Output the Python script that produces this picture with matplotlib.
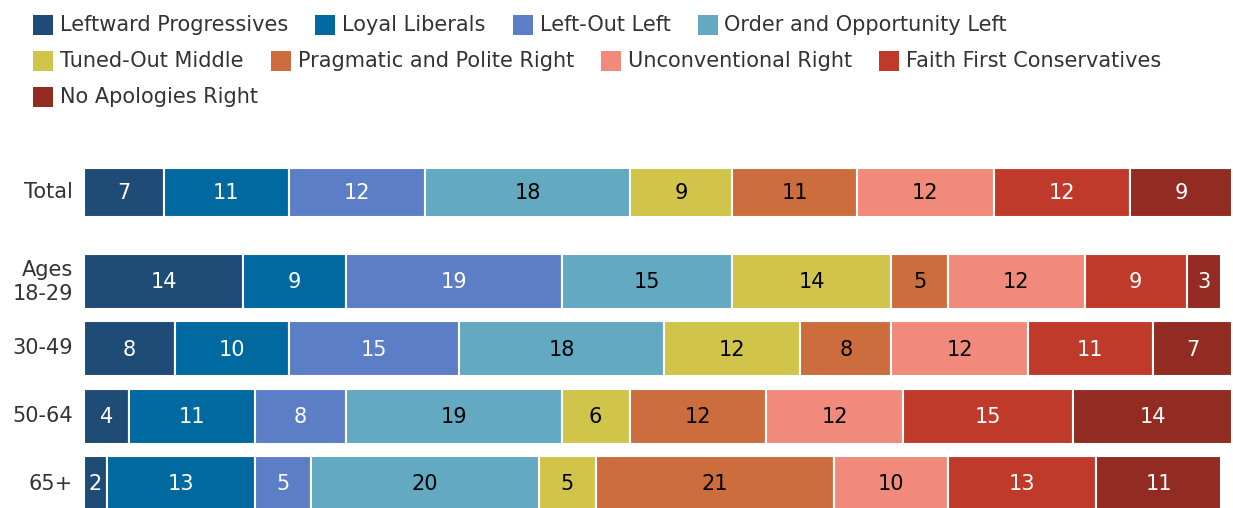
import numpy as np
import matplotlib

matplotlib.use("Agg")
import matplotlib.pyplot as plt
from matplotlib.patches import Rectangle

GROUPS = ["Total", "Ages\n18-29", "30-49", "50-64", "65+"]
SEGMENTS = ["Leftward Progressives", "Loyal Liberals", "Left-Out Left",
            "Order and Opportunity Left", "Tuned-Out Middle",
            "Pragmatic and Polite Right", "Unconventional Right",
            "Faith First Conservatives", "No Apologies Right"]
TOTAL = [7, 11, 12, 18, 9, 11, 12, 12, 9]
AGE_18_29 = [14, 9, 19, 15, 14, 5, 12, 9, 3]
AGE_30_49 = [8, 10, 15, 18, 12, 8, 12, 11, 7]
AGE_50_64 = [4, 11, 8, 19, 6, 12, 12, 15, 14]
AGE_65_UP = [2, 13, 5, 20, 5, 21, 10, 13, 11]

COLORS = ["#1F4B77", "#0069A0", "#5B7EC6", "#62A9C1", "#D1C44B",
          "#CC6D3D", "#F18A7B", "#C03A2B", "#922B21"]
DARK_TEXT = {3, 4, 5, 6}   # segments light enough for black numbers
INK = "#333333"

W, H = 1233, 508
plt.rcParams["font.family"] = ["DejaVu Sans"]

fig = plt.figure(figsize=(W / 100, H / 100), dpi=100)
ax = fig.add_axes([84 / W, 0, 1149 / W, 1])
ax.set_xlim(0, 101.05)
ax.set_ylim(H, 0)
ax.axis("off")

rows = [TOTAL, AGE_18_29, AGE_30_49, AGE_50_64, AGE_65_UP]
centers = [192, 281.5, 348.5, 416, 483.5]
heights = [49, 55, 55, 55, 55]
for vals, yc, h, name in zip(rows, centers, heights, GROUPS):
    left = 0
    for k, v in enumerate(vals):
        ax.barh(yc, v, left=left, height=h, color=COLORS[k],
                edgecolor="white", linewidth=1.5)
        ax.text(left + v / 2, yc + 1, f"{v}", ha="center", va="center",
                fontsize=15, color="black" if k in DARK_TEXT else "white")
        left += v
    fig.text(73 / W, 1 - yc / H, name, ha="right", va="center",
             fontsize=15, color=INK, linespacing=1.25)

# flowing legend, three rows
fig.canvas.draw()
renderer = fig.canvas.get_renderer()
legend_rows = [SEGMENTS[:4], SEGMENTS[4:8], SEGMENTS[8:]]
row_y = [25, 61, 97]
idx = 0
for labels, y in zip(legend_rows, row_y):
    x = 33
    for lab in labels:
        fig.patches.append(Rectangle((x / W, 1 - (y + 10) / H), 20 / W, 20 / H,
                                     transform=fig.transFigure,
                                     facecolor=COLORS[idx], edgecolor="none"))
        t = fig.text((x + 27) / W, 1 - y / H, lab, ha="left", va="center",
                     fontsize=15, color=INK)
        tw = t.get_window_extent(renderer).width
        x = x + 27 + tw + 27
        idx += 1

fig.savefig("out.png", dpi=100)
